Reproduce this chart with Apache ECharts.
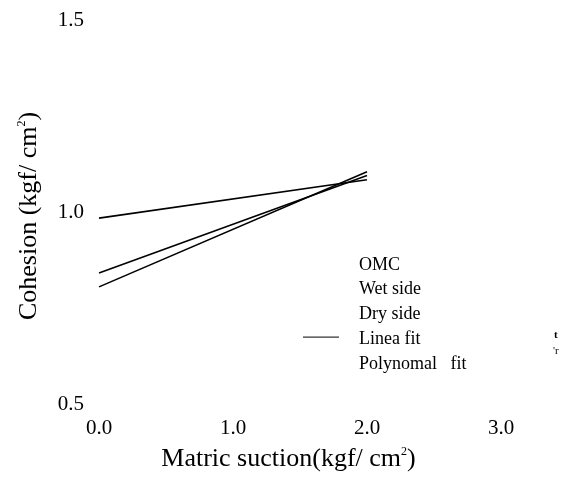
<!DOCTYPE html>
<html>
<head>
<meta charset="utf-8">
<script src="https://cdn.jsdelivr.net/npm/echarts@6/dist/echarts.min.js"></script>
<style>
  html, body { margin: 0; padding: 0; background: #fff; }
  #chart { width: 571px; height: 482px; }
</style>
</head>
<body>
<div id="chart"></div>
<script>
// Fitted cohesion lines against matric suction (start and end of each fit)
const suction = [0.0, 2.0];
const omcFit = [0.984, 1.084];
const wetFit = [0.841, 1.095];
const dryFit = [0.805, 1.105];

const legendNames = ['OMC', 'Wet side', 'Dry side', 'Linea fit', 'Polynomal   fit'];
const xTicks = [0, 1, 2, 3];
const yTicks = [0.5, 1.0, 1.5];

const serif = '"Liberation Serif", "Times New Roman", serif';

function pairs(xs, ys) {
  return xs.map((x, i) => [x, ys[i]]);
}

function fitSeries(name, values) {
  return {
    name: name,
    type: 'line',
    data: pairs(suction, values),
    symbol: 'none',
    silent: true,
    lineStyle: { color: '#000', width: 1.6 },
    itemStyle: { color: '#000' }
  };
}

function titleRich(size) {
  return {
    t: { fontFamily: serif, fontSize: size, color: '#000', lineHeight: size + 2, verticalAlign: 'bottom' },
    s: { fontFamily: serif, fontSize: 12, color: '#000', lineHeight: size + 2, verticalAlign: 'top', padding: [2, 0, 0, 0] }
  };
}

// Legend block: text list with a line sample beside the fit entry
const legendLeft = 359;
const legendTop = 266;
const legendStep = 24.7;
const legendGraphics = [];
legendNames.forEach((name, i) => {
  const cy = legendTop + i * legendStep;
  legendGraphics.push({
    type: 'text',
    left: legendLeft,
    top: cy - 10,
    silent: true,
    style: { text: name, fontFamily: serif, fontSize: 18, fill: '#000' }
  });
  if (name === 'Linea fit') {
    legendGraphics.push({
      type: 'line',
      silent: true,
      shape: { x1: 303, y1: cy - 3, x2: 339, y2: cy - 3 },
      style: { stroke: '#000', lineWidth: 1 }
    });
  }
});
// clipped marker glyphs at the right edge
legendGraphics.push(
  { type: 'text', left: 554, top: 330, silent: true, style: { text: 't', fontFamily: serif, fontSize: 11, fontWeight: 'bold', fill: '#000' } },
  { type: 'text', left: 553, top: 346, silent: true, style: { text: '\'r', fontFamily: serif, fontSize: 11, fill: '#000' } }
);

const chart = echarts.init(document.getElementById('chart'), null, { renderer: 'canvas' });

chart.setOption({
  animation: false,
  backgroundColor: '#fff',
  grid: { left: 99, right: 3, top: 20, bottom: 78 },
  xAxis: {
    type: 'value',
    min: 0,
    max: 3.5,
    interval: 1,
    axisLine: { show: false },
    axisTick: { show: false },
    splitLine: { show: false },
    axisLabel: {
      margin: 14,
      color: '#000',
      fontFamily: serif,
      fontSize: 21,
      formatter: v => xTicks.includes(v) ? v.toFixed(1) : ''
    },
    name: '{t|Matric suction(kgf/ cm}{s|2}{t|)}',
    nameLocation: 'middle',
    nameGap: 36,
    nameTextStyle: { rich: titleRich(26), padding: [0, 90, 0, 0] }
  },
  yAxis: {
    type: 'value',
    min: 0.5,
    max: 1.5,
    interval: 0.5,
    axisLine: { show: false },
    axisTick: { show: false },
    splitLine: { show: false },
    axisLabel: {
      margin: 15,
      color: '#000',
      fontFamily: serif,
      fontSize: 21,
      formatter: v => yTicks.includes(v) ? v.toFixed(1) : ''
    },
    name: '{t|Cohesion (kgf/ cm}{s|2}{t|)}',
    nameLocation: 'middle',
    nameRotate: 90,
    nameGap: 57,
    nameTextStyle: { rich: titleRich(26), padding: [0, 8, 0, 0] }
  },
  graphic: legendGraphics,
  series: [
    fitSeries('OMC', omcFit),
    fitSeries('Wet side', wetFit),
    fitSeries('Dry side', dryFit)
  ]
});
</script>
</body>
</html>
